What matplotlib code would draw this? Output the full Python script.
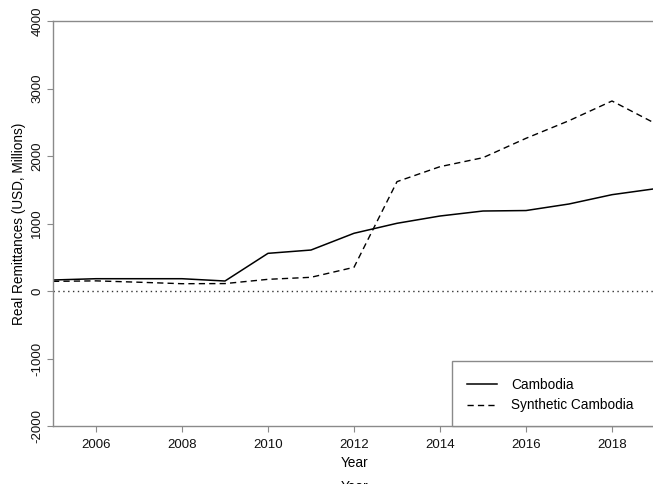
import matplotlib
matplotlib.use("Agg")
import matplotlib.pyplot as plt
from matplotlib.patches import Rectangle

plt.rcParams['font.family'] = ['Liberation Sans', 'DejaVu Sans']

years = [2005, 2006, 2007, 2008, 2009, 2010, 2011, 2012,
         2013, 2014, 2015, 2016, 2017, 2018, 2019]
cambodia = [163, 182, 182, 182, 148, 558, 607, 855,
            1003, 1111, 1185, 1192, 1289, 1427, 1515]
synthetic = [143, 150, 130, 108, 110, 173, 203, 351,
             1620, 1842, 1975, 2262, 2523, 2815, 2484]
xticks = [2006, 2008, 2010, 2012, 2014, 2016, 2018]
yticks = [-2000, -1000, 0, 1000, 2000, 3000, 4000]

W, H = 653, 484
fig = plt.figure(figsize=(W / 100, H / 100), dpi=100)
ax = fig.add_axes([53 / W, 1 - 426 / H, 602 / W, 405 / H])

gray = '#8a8a8a'
ax.plot(years, cambodia, color='black', lw=1.1, label='Cambodia')
ax.plot(years, synthetic, color='black', lw=1.0, linestyle=(0, (4.5, 3)),
        label='Synthetic Cambodia')
ax.axhline(0, color='#333333', lw=1.0, linestyle=(0, (1, 2.5)))

ax.set_xlim(2005, 2019)
ax.set_ylim(-2000, 4000)
ax.set_xticks(xticks)
ax.set_yticks(yticks)
ax.set_yticklabels([str(v) for v in yticks], rotation=90, va='center')
ax.tick_params(axis='both', colors=gray, labelcolor='#111111', labelsize=9.5,
               length=4, width=0.8)
ax.tick_params(axis='x', pad=5)
ax.tick_params(axis='y', pad=3)

for side in ['left', 'bottom', 'top']:
    ax.spines[side].set_color(gray)
    ax.spines[side].set_linewidth(1.0)
ax.spines['right'].set_visible(False)

ax.set_ylabel('Real Remittances (USD, Millions)', fontsize=9.8, labelpad=4)

fig.text(355 / W, 1 - 463 / H, 'Year', ha='center', va='center', fontsize=9.8)
fig.text(355 / W, 1 - 487 / H, 'Year', ha='center', va='center', fontsize=9.8)

# legend box
ax.add_patch(Rectangle((452 / W, 1 - 426 / H), 300 / W, 65 / H,
                       transform=fig.transFigure, facecolor='white',
                       edgecolor=gray, lw=1.0, zorder=5, clip_on=False))
leg = ax.legend(loc='upper left', bbox_to_anchor=(455 / W, 1 - 366 / H),
                bbox_transform=fig.transFigure, frameon=False, fontsize=9.8,
                handlelength=2.15, handletextpad=1.1, labelspacing=0.45)
leg.set_zorder(6)

fig.savefig('out.png', dpi=100)
